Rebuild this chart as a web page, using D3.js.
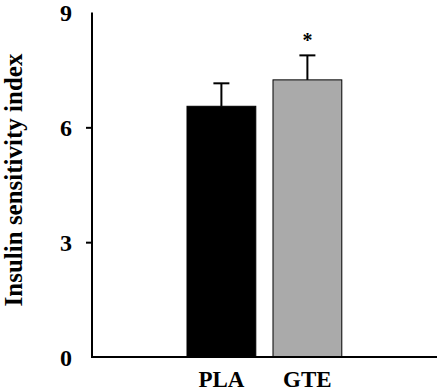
<!DOCTYPE html>
<html>
<head>
<meta charset="utf-8">
<script src="https://cdn.jsdelivr.net/npm/d3@7"></script>
<style>
  body { margin: 0; background: #fff; }
  text { font-family: "Liberation Serif", "Times New Roman", serif; font-weight: bold; }
</style>
</head>
<body>
<svg id="chart"></svg>
<script>
// chart data
const groups = ["PLA", "GTE"];
const means = [6.55, 7.24];
const errors = [0.6, 0.64];
const colors = ["#000000", "#aaaaaa"];
const signif = ["", "*"];
const yTicks = [0, 3, 6, 9];

const width = 440;
const height = 392;
const margin = { top: 12, right: 3, bottom: 35, left: 92 };

let svg = d3.select("#chart")
    .attr("width", width)
    .attr("height", height);

let y = d3.scaleLinear()
    .domain([0, 9])
    .range([height - margin.bottom, margin.top + 0.5]);

let x = d3.scaleBand()
    .domain(groups)
    .range([178.4, 350.4])
    .paddingInner(0.2)
    .paddingOuter(0.1);

let g = svg.append("g");

// bars
g.selectAll(".bar")
    .data(groups)
    .enter()
    .append("rect")
    .attr("class", "bar")
    .attr("x", d => x(d))
    .attr("width", x.bandwidth())
    .attr("y", (d, i) => y(means[i]))
    .attr("height", (d, i) => y(0) - y(means[i]))
    .attr("fill", (d, i) => colors[i])
    .attr("stroke", "#000")
    .attr("stroke-width", 1);

// error bars (upper only)
let capHalf = 8;
groups.forEach((d, i) => {
    let cx = x(d) + x.bandwidth() / 2;
    g.append("line")
        .attr("x1", cx).attr("x2", cx)
        .attr("y1", y(means[i])).attr("y2", y(means[i] + errors[i]))
        .attr("stroke", "#000").attr("stroke-width", 2);
    g.append("line")
        .attr("x1", cx - capHalf).attr("x2", cx + capHalf)
        .attr("y1", y(means[i] + errors[i])).attr("y2", y(means[i] + errors[i]))
        .attr("stroke", "#000").attr("stroke-width", 2);
    if (signif[i]) {
        g.append("text")
            .attr("x", cx)
            .attr("y", y(means[i] + errors[i]) - 8)
            .attr("text-anchor", "middle")
            .style("font-size", "20px")
            .text(signif[i]);
    }
});

// y axis
let yAxis = d3.axisLeft(y)
    .tickValues(yTicks)
    .tickSize(6)
    .tickFormat(d3.format("d"));

let yG = svg.append("g")
    .attr("transform", "translate(" + margin.left + ",0)")
    .call(yAxis);

yG.select(".domain").attr("stroke", "#000").attr("stroke-width", 2)
    .attr("d", "M0," + y(9) + "V" + y(0));
yG.selectAll(".tick line").attr("stroke", "#000").attr("stroke-width", 2)
    .filter(d => d === 0 || d === 9).remove();
yG.selectAll(".tick text")
    .attr("x", -20)
    .attr("dy", "0.34em")
    .style("font-size", "24px")
    .style("font-family", "'Liberation Serif', serif")
    .style("font-weight", "bold")
    .attr("fill", "#000");

// x axis line
svg.append("line")
    .attr("x1", margin.left - 1)
    .attr("x2", width - margin.right)
    .attr("y1", y(0))
    .attr("y2", y(0))
    .attr("stroke", "#000")
    .attr("stroke-width", 2);

// x labels
svg.selectAll(".xlab")
    .data(groups)
    .enter()
    .append("text")
    .attr("class", "xlab")
    .attr("x", d => x(d) + x.bandwidth() / 2)
    .attr("y", 387)
    .attr("text-anchor", "middle")
    .style("font-size", "23px")
    .text(d => d);

// y axis title
svg.append("text")
    .attr("transform", "translate(22,180) rotate(-90)")
    .attr("text-anchor", "middle")
    .style("font-size", "25px")
    .text("Insulin sensitivity index");
</script>
</body>
</html>
